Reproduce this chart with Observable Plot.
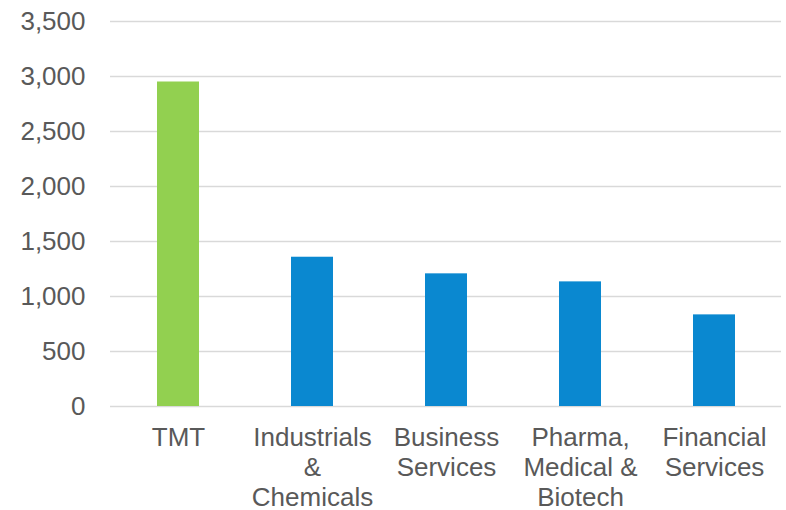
<!DOCTYPE html>
<html>
<head>
<meta charset="utf-8">
<script src="https://cdn.jsdelivr.net/npm/d3@7"></script>
<script src="https://cdn.jsdelivr.net/npm/@observablehq/plot@0.6"></script>
<style>
  html, body { margin: 0; padding: 0; background: #fff; }
  #chart svg { display: block; }
</style>
</head>
<body>
<div id="chart"></div>
<script>
const categories = ["TMT", "Industrials & Chemicals", "Business Services", "Pharma, Medical & Biotech", "Financial Services"];
const tickLabels = ["TMT", "Industrials\n&\nChemicals", "Business\nServices", "Pharma,\nMedical &\nBiotech", "Financial\nServices"];
const values = [2950, 1357, 1206, 1133, 833];
const barColors = ["#92d050", "#0a88d0", "#0a88d0", "#0a88d0", "#0a88d0"];
const yTicks = [0, 500, 1000, 1500, 2000, 2500, 3000, 3500];

const data = categories.map((c, i) => ({category: c, value: values[i], color: barColors[i], label: tickLabels[i]}));
const labelOf = new Map(categories.map((c, i) => [c, tickLabels[i]]));

const textColor = "#595959";
const fmt = d3.format(",");

const chart = Plot.plot({
  width: 786,
  height: 510,
  marginLeft: 110,
  marginRight: 5,
  marginTop: 21,
  marginBottom: 104,
  style: {fontFamily: "'Liberation Sans', Arial, sans-serif", background: "#fff"},
  x: {domain: categories, paddingInner: 0.687, paddingOuter: 0.3435, label: null},
  y: {domain: [0, 3500], label: null},
  marks: [
    Plot.gridY(yTicks, {stroke: "#d9d9d9", strokeOpacity: 1, strokeWidth: 1.5}),
    Plot.barY(data, {x: "category", y: "value", fill: "color"}),
    Plot.axisY(yTicks, {tickSize: 0, tickPadding: 25, fontSize: 26, fill: textColor, tickFormat: fmt, label: null}),
    Plot.axisX({tickSize: 0, tickPadding: 18, fontSize: 26, lineHeight: 1.154, fill: textColor, tickFormat: d => labelOf.get(d), label: null})
  ]
});
document.getElementById("chart").appendChild(chart);
</script>
</body>
</html>
